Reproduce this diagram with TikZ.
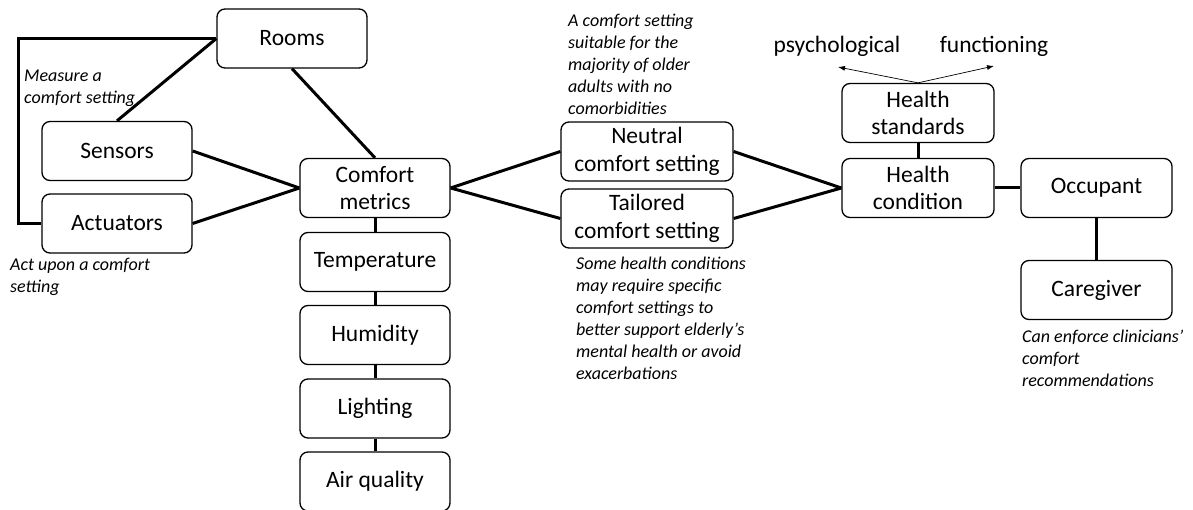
\documentclass[tikz,border=0pt]{standalone}
\usepackage{fontspec}
\setmainfont{Carlito}
\usetikzlibrary{arrows.meta}
\tikzset{
  box/.style={draw, line width=1.3pt, rounded corners=8pt, minimum width=150pt,
    minimum height=59pt, align=center, font=\fontsize{23.5}{27.5}\selectfont},
  note/.style={align=left, anchor=north west, inner sep=0pt,
    font=\fontsize{18}{22}\selectfont\itshape},
  link/.style={line width=3pt},
  pointer/.style={line width=0.7pt, -{Latex[length=7pt,width=5pt]}}
}
\begin{document}
\begin{tikzpicture}[x=1pt,y=-1pt]
  \useasboundingbox (0,0) rectangle (1193,510);

  \node[box] (Rooms) at (292,38.5) {Rooms};
  \node[box] (Sensors) at (117,151) {Sensors};
  \node[box] (Actuators) at (117,223.5) {Actuators};

  \node[box] (Metrics) at (375,188) {Comfort\\metrics};
  \node[box] (Temperature) at (375,262) {Temperature};
  \node[box] (Humidity) at (375,335) {Humidity};
  \node[box] (Lighting) at (375,408.5) {Lighting};
  \node[box] (Air) at (375,481.5) {Air quality};

  \node[box, minimum width=172pt] (Neutral) at (647,151.5) {Neutral\\comfort setting};
  \node[box, minimum width=172pt] (Tailored) at (647,218.5) {Tailored\\comfort setting};

  \node[box, minimum width=152pt] (Standards) at (918,113) {Health\\standards};
  \node[box, minimum width=152pt] (Condition) at (918,188) {Health\\condition};
  \node[box, minimum width=151pt] (Occupant) at (1096.5,188) {Occupant};
  \node[box, minimum width=151pt] (Caregiver) at (1096.5,290) {Caregiver};

  \node[font=\fontsize{23.5}{27.5}\selectfont] (Psycho) at (837,46) {psychological};
  \node[font=\fontsize{23.5}{27.5}\selectfont] (Functioning) at (994,46) {functioning};
  \coordinate (PsychoTip) at (838,67);
  \coordinate (FunctioningTip) at (994,66);
  \coordinate (Loop) at (18,38.5);

  % notes
  \node[note] (MeasureNote) at (24,70) {Measure a\\comfort setting};
  \node[note] (ActNote) at (10,258) {Act upon a comfort\\setting};
  \node[note] (NeutralNote) at (568,14) {A comfort setting\\suitable for the\\majority of older\\adults with no\\comorbidities};
  \node[note] (TailoredNote) at (576,257) {Some health conditions\\may require specific\\comfort settings to\\better support elderly’s\\mental health or avoid\\exacerbations};
  \node[note] (CaregiverNote) at (1022,330) {Can enforce clinicians’\\comfort\\recommendations};

  \draw[link] (Rooms.west) -- (Loop) |- (Actuators.west);
  \draw[link] (Rooms.west) -- (Sensors.north);
  \draw[link] (Rooms.south) -- (Metrics.north);
  \draw[link] (Sensors.east) -- (Metrics.west);
  \draw[link] (Actuators.east) -- (Metrics.west);

  \draw[link] (Metrics) -- (Temperature);
  \draw[link] (Temperature) -- (Humidity);
  \draw[link] (Humidity) -- (Lighting);
  \draw[link] (Lighting) -- (Air);

  \draw[link] (Metrics.east) -- (Neutral.west);
  \draw[link] (Metrics.east) -- (Tailored.west);
  \draw[link] (Neutral.east) -- (Condition.west);
  \draw[link] (Tailored.east) -- (Condition.west);

  \draw[link] (Standards) -- (Condition);
  \draw[link] (Condition) -- (Occupant);
  \draw[link] (Occupant) -- (Caregiver);

  \draw[pointer] (Standards.north) -- (PsychoTip);
  \draw[pointer] (Standards.north) -- (FunctioningTip);
\end{tikzpicture}
\end{document}
